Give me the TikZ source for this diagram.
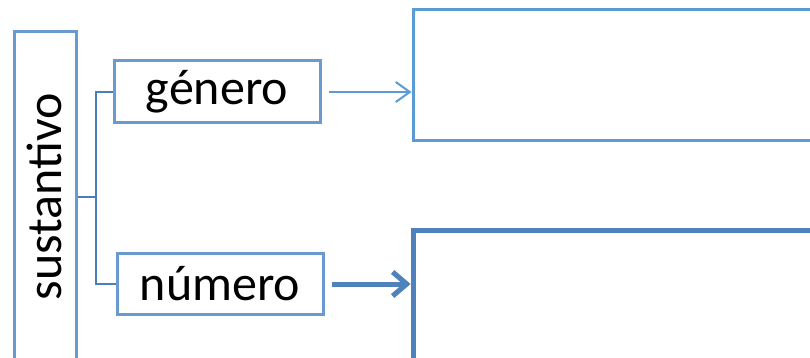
\documentclass[tikz,border=0pt]{standalone}
\usepackage{fontspec}
\setmainfont{Carlito}
\usetikzlibrary{arrows.meta,calc}
\definecolor{lightb}{HTML}{5B9BD5}
\definecolor{midb}{HTML}{6A9AD0}
\definecolor{darkb}{HTML}{4F81BD}
\definecolor{brk}{HTML}{4A7EBB}
\tikzset{
  box/.style={draw=midb,line width=3pt,fill=white,inner sep=0pt},
  lbl/.style={font=\fontsize{50}{54}\selectfont},
  bracket/.style={draw=brk,line width=2.5pt},
}
\begin{document}
\begin{tikzpicture}[x=1pt,y=-1pt]
\useasboundingbox (0,0) rectangle (810,358);
\clip (0,0) rectangle (810,358);
\fill[white] (0,0) rectangle (810,358);
\node[box,minimum width=62pt,minimum height=330pt] (sust) at (45,197) {};
\node[lbl,rotate=90] (sustt) at (44,197) {sustantivo};
\node[box,lbl,minimum width=206pt,minimum height=62pt] (gen) at (217,92) {género};
\node[box,lbl,minimum width=206pt,minimum height=61pt] (num) at (220,284) {número};
\node[draw=lightb,line width=3pt,inner sep=0pt,minimum width=437pt,minimum height=131pt] (b3) at (631.5,75.5) {};
\node[draw=darkb,line width=5pt,inner sep=0pt,minimum width=437pt,minimum height=270pt] (b4) at (631.5,365) {};
\coordinate (jn) at (96,197);
\draw[bracket] (sust.east |- jn) -- (jn) |- (gen.west);
\draw[bracket] (jn) |- (num.west);
\draw[draw=lightb,line width=2pt,-{Straight Barb[length=14pt,width=20pt]},shorten <=7pt] (gen.east) -- (gen.east -| b3.west);
\begin{scope}[shift={(1.5,2)}]
\draw[draw=gray,opacity=0.3,line width=5pt,-{Straight Barb[length=14pt,width=24pt]},shorten <=7pt] (num.east) -- (num.east -| b4.west);
\end{scope}
\draw[draw=darkb,line width=5pt,-{Straight Barb[length=14pt,width=24pt]},shorten <=7pt] (num.east) -- (num.east -| b4.west);
\end{tikzpicture}
\end{document}
